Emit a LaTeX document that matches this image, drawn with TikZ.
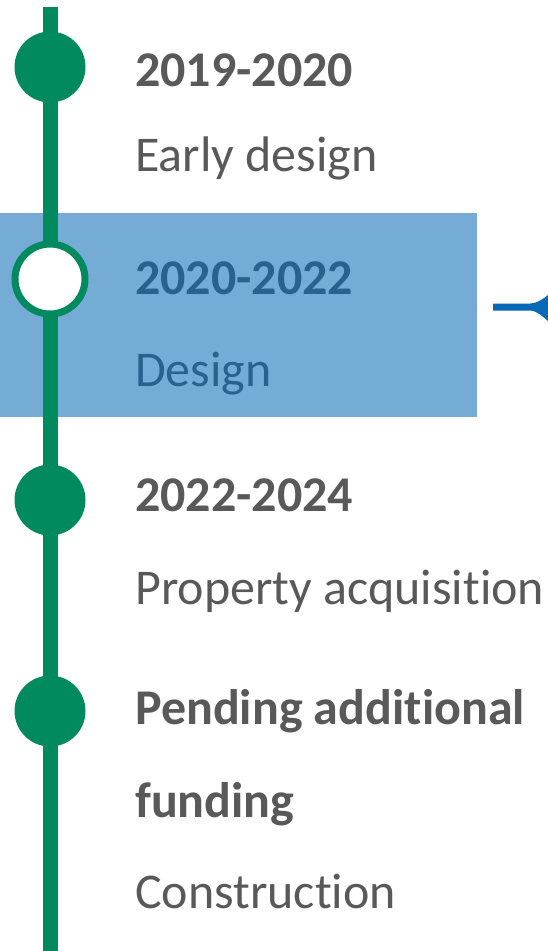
\documentclass[tikz,border=0pt]{standalone}
\usepackage{fontspec}
\setmainfont[Ligatures={NoCommon,NoContextual}]{Carlito}
\definecolor{tgreen}{RGB}{0,138,94}
\definecolor{tgray}{RGB}{89,89,89}
\definecolor{hlblue}{RGB}{117,172,214}
\definecolor{hltext}{RGB}{42,98,142}
\definecolor{arrblue}{RGB}{8,106,182}
\begin{document}
\begin{tikzpicture}[x=1pt,y=-1pt,
  lbl/.style={anchor=base west,inner sep=0pt,text=tgray,font=\fontsize{50}{60}\selectfont},
  yr/.style={lbl,font=\fontsize{50}{60}\selectfont\bfseries},
  dotfull/.style={circle,fill=tgreen,minimum size=71pt,inner sep=0pt},
  dotopen/.style={circle,fill=white,draw=tgreen,line width=7pt,minimum size=70pt,inner sep=0pt}]
\useasboundingbox (0,0) rectangle (548,951);
\fill[hlblue] (0,213) rectangle (477,417);
\coordinate (top) at (50,7);
\coordinate (bot) at (50,951);
\draw[tgreen,line width=15pt] (top) -- (bot);
\node[dotfull] (d1) at (50,67) {};
\node[dotopen] (d2) at (50,279) {};
\node[dotfull] (d3) at (50,500) {};
\node[dotfull] (d4) at (50,711) {};
\node[yr] (t1) at (135,86) {2019-2020};
\node[lbl] (s1) at (135,171) {Early design};
\node[yr,text=hltext] (t2) at (135,294) {2020-2022};
\node[lbl,text=hltext] (s2) at (135,386) {Design};
\node[yr] (t3) at (135,511) {2022-2024};
\node[lbl] (s3) at (135,604) {Property acquisition};
\node[yr] (t4) at (135,724) {Pending additional};
\node[yr] (t4b) at (135,817) {funding};
\node[lbl] (s4) at (135,908) {Construction};
\fill[arrblue] (493,303.5) -- (530,303.5) .. controls (538,303) and (543,299) .. (548,295)
  -- (548,321) .. controls (543,317) and (538,311) .. (530,310.5) -- (493,310.5) -- cycle;
\end{tikzpicture}
\end{document}
